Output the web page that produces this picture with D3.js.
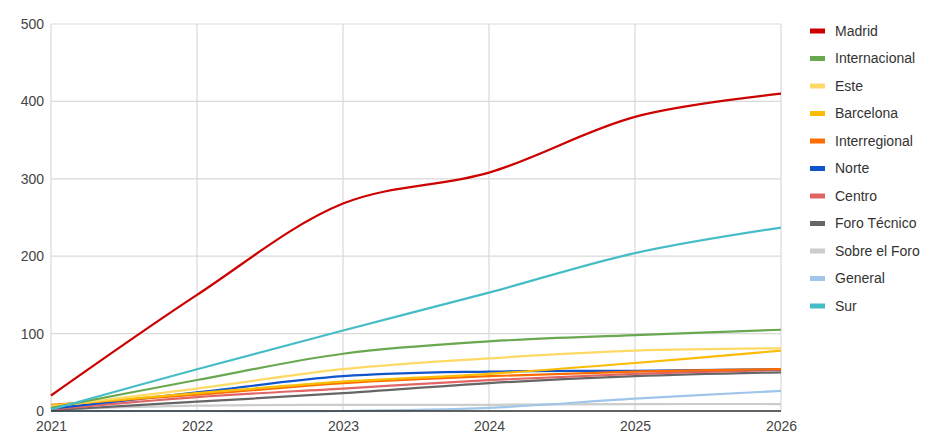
<!DOCTYPE html>
<html>
<head>
<meta charset="utf-8">
<script src="https://cdn.jsdelivr.net/npm/d3@7"></script>
<style>
  html, body { margin: 0; padding: 0; background: #fff; }
  svg { display: block; font-family: Arial, "Liberation Sans", sans-serif; }
</style>
</head>
<body>
<svg id="chart" width="941" height="442"></svg>
<script>
const years = [2021, 2022, 2023, 2024, 2025, 2026];
const yTicks = [0, 100, 200, 300, 400, 500];

const seriesNames = ["Madrid", "Internacional", "Este", "Barcelona", "Interregional", "Norte", "Centro", "Foro Técnico", "Sobre el Foro", "General", "Sur"];
const seriesColors = ["#cc0000", "#6aa84f", "#ffd966", "#fbbc04", "#ff6d01", "#1155cc", "#e06666", "#666666", "#cccccc", "#9fc5e8", "#46bdc6"];

const madrid        = [20, 150, 268, 308, 380, 410];
const internacional = [4, 40, 74, 90, 98, 105];
const este          = [6, 29, 54, 68, 78, 81];
const barcelona     = [7, 23, 38, 48, 62, 78];
const interregional = [8, 21, 36, 45, 51, 54];
const norte         = [3, 24, 45, 51, 52, 54];
const centro        = [2, 18, 29, 40, 48, 53];
const foroTecnico   = [1, 12, 23, 36, 45, 50];
const sobreElForo   = [2, 7, 8, 8, 9, 9];
const general       = [0, 0, 0, 4, 16, 26];
const sur           = [2, 54, 104, 153, 204, 237];

const seriesValues = [madrid, internacional, este, barcelona, interregional, norte, centro, foroTecnico, sobreElForo, general, sur];

const svg = d3.select("#chart");
const margin = { left: 51, right: 160, top: 24, bottom: 31 };
const W = 941, H = 442;

const x = d3.scaleLinear().domain([2021, 2026]).range([margin.left, W - margin.right]);
const y = d3.scaleLinear().domain([0, 500]).range([H - margin.bottom, margin.top]);

// gridlines
const g = svg.append("g");
g.selectAll("line.hgrid").data(yTicks).join("line")
  .attr("x1", x(2021)).attr("x2", x(2026))
  .attr("y1", d => y(d)).attr("y2", d => y(d))
  .attr("stroke", "#d9d9d9").attr("stroke-width", 1.2);
g.selectAll("line.vgrid").data(years).join("line")
  .attr("x1", d => x(d)).attr("x2", d => x(d))
  .attr("y1", y(500)).attr("y2", y(0))
  .attr("stroke", "#d9d9d9").attr("stroke-width", 1.2);

// y axis labels
const yAxis = d3.axisLeft(y).tickValues(yTicks).tickSize(0).tickPadding(7).tickFormat(d3.format("d"));
const ya = svg.append("g").attr("transform", `translate(${x(2021)},0)`).call(yAxis);
ya.select(".domain").remove();
ya.selectAll("text").attr("font-size", 14).attr("fill", "#444").attr("font-family", "Arial, 'Liberation Sans', sans-serif");

// x axis labels
const xAxis = d3.axisBottom(x).tickValues(years).tickSize(0).tickPadding(10).tickFormat(d3.format("d"));
const xa = svg.append("g").attr("transform", `translate(0,${y(0)})`).call(xAxis);
xa.select(".domain").remove();
xa.selectAll("text").attr("font-size", 14).attr("fill", "#444").attr("font-family", "Arial, 'Liberation Sans', sans-serif");

// lines
const line = d3.line()
  .x((d, i) => x(years[i]))
  .y(d => y(d))
  .curve(d3.curveCatmullRom.alpha(0.5));

const order = [8, 9, 7, 6, 5, 4, 3, 2, 1, 10, 0];
svg.append("g").selectAll("path").data(order).join("path")
  .attr("d", i => line(seriesValues[i]))
  .attr("fill", "none")
  .attr("stroke", i => seriesColors[i])
  .attr("stroke-width", 2.2)
  .attr("stroke-linejoin", "round");

// baseline
svg.append("line")
  .attr("x1", x(2021)).attr("x2", x(2026))
  .attr("y1", y(0)).attr("y2", y(0))
  .attr("stroke", "#333").attr("stroke-width", 1.3);

// legend
const lg = svg.append("g").attr("transform", "translate(810,31)");
const items = lg.selectAll("g").data(seriesNames).join("g")
  .attr("transform", (d, i) => `translate(0,${i * 27.5})`);
items.append("rect").attr("x", 0).attr("y", -2.5).attr("width", 15).attr("height", 5)
  .attr("fill", (d, i) => seriesColors[i]);
items.append("text").attr("x", 25).attr("y", 0).attr("dy", "0.35em")
  .attr("font-size", 14).attr("fill", "#333").text(d => d);
</script>
</body>
</html>
